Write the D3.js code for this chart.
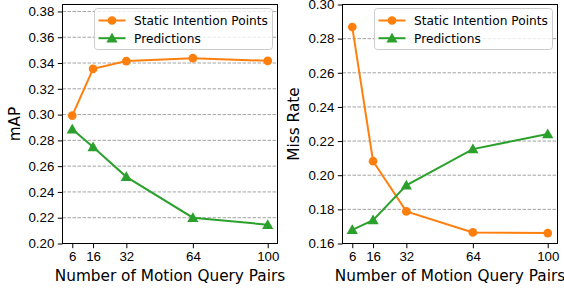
<!DOCTYPE html>
<html>
<head>
<meta charset="utf-8">
<script src="https://cdn.jsdelivr.net/npm/d3@7"></script>
<style>
  body { margin: 0; background: #fff; }
  svg { display: block; font-family: "DejaVu Sans", sans-serif; }
</style>
</head>
<body>
<div id="chart"></div>
<script>
(() => {
    // data
    const queryPairs = [6, 16, 32, 64, 100];
    const mapStatic = [0.2992, 0.3355, 0.3415, 0.3438, 0.3417];
    const mapPred = [0.2886, 0.2748, 0.2517, 0.2200, 0.2146];
    const missStatic = [0.2868, 0.2082, 0.1788, 0.1665, 0.1661];
    const missPred = [0.1680, 0.1737, 0.1941, 0.2153, 0.2241];
    const mapTicks = [0.20, 0.22, 0.24, 0.26, 0.28, 0.30, 0.32, 0.34, 0.36, 0.38];
    const missTicks = [0.16, 0.18, 0.20, 0.22, 0.24, 0.26, 0.28, 0.30];
    const seriesNames = ['Static Intention Points', 'Predictions'];

    const orange = '#ff7f0e';
    const green = '#2ca02c';

    const width = 564;
    const height = 288;

    const svg = d3.select('#chart')
        .append('svg')
        .attr('width', width)
        .attr('height', height);

    function drawPanel(opts) {
        const x = d3.scaleLinear().domain([1.3, 104.7]).range([opts.left, opts.right]);
        const y = d3.scaleLinear().domain(opts.yDomain).range([opts.bottom, opts.top]);
        const g = svg.append('g');

        // grid
        g.selectAll('line.grid')
            .data(opts.yTicks)
            .enter()
            .append('line')
            .attr('x1', opts.left)
            .attr('x2', opts.right)
            .attr('y1', d => y(d))
            .attr('y2', d => y(d))
            .attr('stroke', '#999')
            .attr('stroke-width', 0.9)
            .attr('stroke-dasharray', '3.5,1.5');

        // axes
        const xAxis = g.append('g')
            .attr('transform', `translate(0,${opts.bottom})`)
            .call(d3.axisBottom(x).tickValues(queryPairs).tickSize(4.7).tickPadding(3.5).tickFormat(d3.format('d')));
        const yAxis = g.append('g')
            .attr('transform', `translate(${opts.left},0)`)
            .call(d3.axisLeft(y).tickValues(opts.yTicks).tickSize(4.7).tickPadding(3.5).tickFormat(d3.format('.2f')));
        [xAxis, yAxis].forEach(a => {
            a.select('.domain').remove();
            a.selectAll('text').style('font-size', '13.3px').attr('fill', '#000');
            a.selectAll('line').attr('stroke', '#000').attr('stroke-width', 1);
        });

        // lines + markers
        const line = d3.line().x((d, i) => x(queryPairs[i])).y(d => y(d));
        const series = [
            { values: opts.staticVals, color: orange, shape: d3.symbolCircle },
            { values: opts.predVals, color: green, shape: d3.symbolTriangle }
        ];
        series.forEach(s => {
            g.append('path')
                .datum(s.values)
                .attr('d', line)
                .attr('fill', 'none')
                .attr('stroke', s.color)
                .attr('stroke-width', 2);
            g.selectAll(null)
                .data(s.values)
                .enter()
                .append('path')
                .attr('d', d3.symbol().type(s.shape).size(s.shape === d3.symbolCircle ? 60 : 55))
                .attr('transform', (d, i) => `translate(${x(queryPairs[i])},${y(d) + (s.shape === d3.symbolTriangle ? 1 : 0)})`)
                .attr('fill', s.color);
        });

        // frame
        g.append('rect')
            .attr('x', opts.left)
            .attr('y', opts.top)
            .attr('width', opts.right - opts.left)
            .attr('height', opts.bottom - opts.top)
            .attr('fill', 'none')
            .attr('stroke', '#000')
            .attr('stroke-width', 1);

        // legend
        const lg = g.append('g').attr('transform', `translate(${opts.right - 183},${opts.top + 4})`);
        lg.append('rect')
            .attr('width', 178)
            .attr('height', 41)
            .attr('rx', 3)
            .attr('fill', 'rgba(255,255,255,0.8)')
            .attr('stroke', '#ccc');
        series.forEach((s, i) => {
            const cy = 12 + i * 17.7;
            lg.append('line')
                .attr('x1', 4).attr('x2', 31)
                .attr('y1', cy).attr('y2', cy)
                .attr('stroke', s.color)
                .attr('stroke-width', 2);
            lg.append('path')
                .attr('d', d3.symbol().type(s.shape).size(s.shape === d3.symbolCircle ? 60 : 55))
                .attr('transform', `translate(17.5,${cy + (s.shape === d3.symbolTriangle ? 1 : 0)})`)
                .attr('fill', s.color);
            lg.append('text')
                .attr('x', 39.5)
                .attr('y', cy)
                .attr('dy', '0.36em')
                .style('font-size', '12.2px')
                .text(seriesNames[i]);
        });

        // axis labels
        g.append('text')
            .attr('x', (opts.left + opts.right) / 2)
            .attr('y', 281)
            .attr('text-anchor', 'middle')
            .style('font-size', '15.3px')
            .text('Number of Motion Query Pairs');
        g.append('text')
            .attr('transform', `translate(${opts.labelX},${(opts.top + opts.bottom) / 2}) rotate(-90)`)
            .attr('text-anchor', 'middle')
            .style('font-size', '15.3px')
            .text(opts.yLabel);
    }

    drawPanel({
        left: 62.5, right: 277.5, top: 4.5, bottom: 243.5,
        yDomain: [0.2, 0.3854], yTicks: mapTicks,
        staticVals: mapStatic, predVals: mapPred,
        yLabel: 'mAP', labelX: 20
    });

    drawPanel({
        left: 342.5, right: 557.5, top: 4.5, bottom: 243.5,
        yDomain: [0.16, 0.30], yTicks: missTicks,
        staticVals: missStatic, predVals: missPred,
        yLabel: 'Miss Rate', labelX: 299
    });
})();
</script>
</body>
</html>
